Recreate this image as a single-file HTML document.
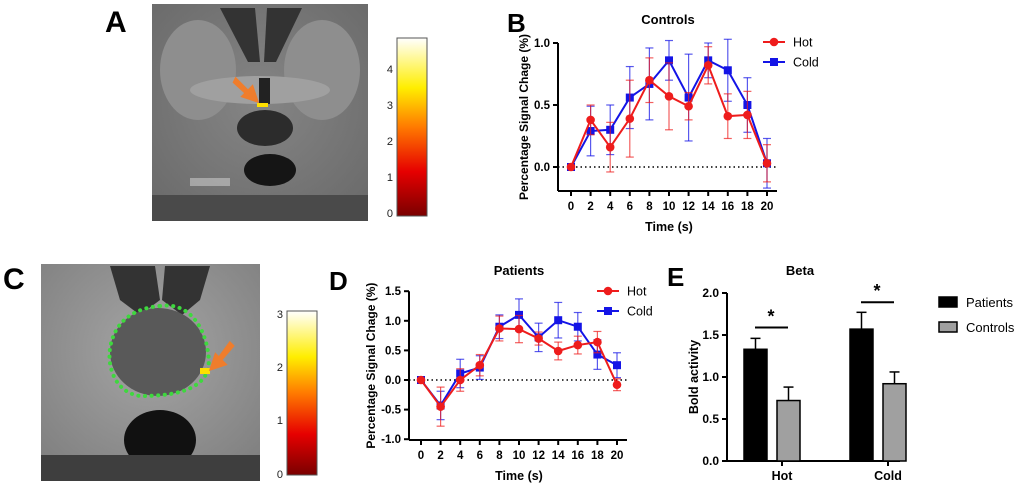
<!DOCTYPE html>
<html><head><meta charset="utf-8"><style>
body{margin:0;background:#fff;}
svg{display:block;font-family:"Liberation Sans",Arial,sans-serif;}
</style></head><body>
<svg id="fig" width="1020" height="487" viewBox="0 0 1020 487" xmlns="http://www.w3.org/2000/svg">
<defs>
<linearGradient id="cbar" x1="0" y1="1" x2="0" y2="0">
<stop offset="0" stop-color="#7a0000"/><stop offset="0.25" stop-color="#e60000"/><stop offset="0.5" stop-color="#ff7a00"/><stop offset="0.72" stop-color="#ffee00"/><stop offset="1" stop-color="#ffffff"/>
</linearGradient>
<radialGradient id="mriA" cx="0.5" cy="0.45" r="0.7"><stop offset="0" stop-color="#858585"/><stop offset="1" stop-color="#6a6a6a"/></radialGradient>
<radialGradient id="mriC" cx="0.5" cy="0.4" r="0.7"><stop offset="0" stop-color="#a5a5a5"/><stop offset="1" stop-color="#808080"/></radialGradient>
</defs>

<!-- Panel A -->
<text x="105" y="32" font-size="30" font-weight="bold">A</text>
<g>
<rect x="152" y="4" width="216" height="217" fill="url(#mriA)"/>
<ellipse cx="198" cy="70" rx="38" ry="50" fill="#8e8e8e"/>
<ellipse cx="322" cy="70" rx="38" ry="50" fill="#8e8e8e"/>
<ellipse cx="260" cy="90" rx="70" ry="14" fill="#a0a0a0"/>
<path d="M220,8 L255,8 L260,62 L248,62 Z" fill="#333"/>
<path d="M302,8 L267,8 L264,62 L276,62 Z" fill="#333"/>
<rect x="259" y="78" width="11" height="26" fill="#222"/>
<ellipse cx="265" cy="128" rx="28" ry="18" fill="#2c2c2c"/>
<ellipse cx="270" cy="170" rx="26" ry="16" fill="#151515"/>
<rect x="152" y="195" width="216" height="26" fill="#4a4a4a"/>
<rect x="190" y="178" width="40" height="8" fill="#c8c8c8" opacity="0.6"/>
<rect x="257" y="103" width="11" height="4" fill="#ffe000"/>
<path d="M236,80 L248,92 L252,88 L256,100 L244,96 L247,93 L235,82 Z" fill="#ef7d2c" stroke="#ef7d2c" stroke-width="4"/>
</g>
<g>
<rect x="397" y="38" width="30" height="178" fill="url(#cbar)" stroke="#555" stroke-width="1"/>
<g font-size="11" text-anchor="end" fill="#222">
<text x="393" y="217">0</text><text x="393" y="181">1</text><text x="393" y="145">2</text><text x="393" y="109">3</text><text x="393" y="73">4</text>
</g></g>

<!-- Panel C -->
<text x="3" y="289" font-size="30" font-weight="bold">C</text>
<g>
<rect x="41" y="264" width="219" height="217" fill="url(#mriC)"/>
<path d="M110,266 L155,266 L160,300 L140,315 L120,300 Z" fill="#333"/>
<path d="M210,266 L165,266 L162,300 L182,315 L200,300 Z" fill="#333"/>
<ellipse cx="158" cy="352" rx="48" ry="44" fill="#595959"/>
<ellipse cx="160" cy="440" rx="36" ry="30" fill="#111"/>
<rect x="41" y="455" width="219" height="26" fill="#3e3e3e"/>
<path d="M160,306 C200,300 212,350 208,370 C200,392 170,396 140,396 C112,392 105,360 112,340 C118,320 135,308 160,306 Z" fill="none" stroke="#3ed83e" stroke-width="4" stroke-dasharray="0.1 6.5" stroke-linecap="round"/>
<rect x="200" y="368" width="10" height="6" fill="#ffe000"/>
<path d="M232,346 L220,360 L224,364 L212,368 L216,356 L219,359 L230,344 Z" fill="#ef7d2c" stroke="#ef7d2c" stroke-width="4"/>
</g>
<g>
<rect x="287" y="311" width="30" height="164" fill="url(#cbar)" stroke="#555" stroke-width="1"/>
<g font-size="11" text-anchor="end" fill="#222">
<text x="283" y="478">0</text><text x="283" y="424">1</text><text x="283" y="371">2</text><text x="283" y="318">3</text>
</g></g>

<text x="507" y="32" font-size="26" font-weight="bold">B</text>
<text x="329" y="290" font-size="26" font-weight="bold">D</text>
<text x="667" y="286" font-size="26" font-weight="bold">E</text>

<g id="chartB"></g>
<g id="chartD"></g>
<g id="chartE"></g>
</svg>
<script>
const timeCats = [0,2,4,6,8,10,12,14,16,18,20];
const ctrlHot = [0,0.38,0.16,0.39,0.70,0.57,0.49,0.82,0.41,0.42,0.03];
const ctrlHotErr = [0,0.12,0.2,0.31,0.18,0.27,0.11,0.15,0.18,0.19,0.15];
const ctrlCold = [0,0.29,0.30,0.56,0.67,0.86,0.56,0.86,0.78,0.50,0.03];
const ctrlColdErr = [0,0.2,0.2,0.25,0.29,0.16,0.35,0.14,0.25,0.22,0.2];
const patHot = [0,-0.45,0,0.25,0.87,0.86,0.70,0.49,0.59,0.64,-0.08];
const patHotErr = [0,0.33,0.19,0.18,0.21,0.23,0.11,0.15,0.15,0.18,0.1];
const patCold = [0,-0.43,0.11,0.21,0.9,1.1,0.72,1.01,0.9,0.43,0.25];
const patColdErr = [0,0.24,0.24,0.2,0.2,0.27,0.24,0.3,0.24,0.25,0.21];
const ticksB = [0,0.5,1.0];
const ticksD = [-1.0,-0.5,0,0.5,1.0,1.5];
const betaCats = ["Hot","Cold"];
const betaPatients = [1.33,1.57];
const betaPatientsErr = [0.13,0.2];
const betaControls = [0.72,0.92];
const betaControlsErr = [0.16,0.14];
const betaSigY = [1.59,1.89];
const ticksE = [0,0.5,1.0,1.5,2.0];

const NS="http://www.w3.org/2000/svg";
function mk(parent,tag,attrs,text){const e=document.createElementNS(NS,tag);for(const k in attrs)e.setAttribute(k,attrs[k]);if(text!==undefined)e.textContent=text;parent.appendChild(e);return e;}

function lineChart(g,o){
  const xs=t=>o.x0+(t-timeCats[0])/(timeCats[timeCats.length-1]-timeCats[0])*(o.x1-o.x0);
  const ys=v=>o.yZero-(v)*o.pxPerUnit;
  mk(g,'text',{x:o.titleX,y:o.titleY,'font-size':13,'font-weight':'bold','text-anchor':'middle'},o.title);
  const ax=mk(g,'g',{});
  
  
  mk(ax,'line',{x1:o.ax,y1:ys(o.ymax),x2:o.ax,y2:o.axBottom,stroke:'#000','stroke-width':2});
  o.ticks.forEach(t=>{
    mk(ax,'line',{x1:o.ax-5,y1:ys(t),x2:o.ax,y2:ys(t),stroke:'#000','stroke-width':2});
    mk(ax,'text',{x:o.ax-8,y:ys(t)+4,'font-size':11.5,'font-weight':'bold','text-anchor':'end'},t.toFixed(1));
  });
  const xa=mk(g,'g',{});
  
  
  mk(xa,'line',{x1:o.ax,y1:o.axBottom,x2:o.axRight,y2:o.axBottom,stroke:'#000','stroke-width':2});
  timeCats.forEach(t=>{
    mk(xa,'line',{x1:xs(t),y1:o.axBottom,x2:xs(t),y2:o.axBottom+5,stroke:'#000','stroke-width':2});
    mk(xa,'text',{x:xs(t),y:o.axBottom+19,'font-size':11.5,'font-weight':'bold','text-anchor':'middle'},t);
  });
  mk(g,'text',{x:(o.x0+o.x1)/2,y:o.axBottom+40,'font-size':12.5,'font-weight':'bold','text-anchor':'middle'},'Time (s)');
  const yt=mk(g,'text',{x:0,y:0,'font-size':12,'font-weight':'bold','text-anchor':'middle',transform:`translate(${o.ytX},${(ys(o.ymax)+o.axBottom)/2}) rotate(-90)`},'Percentage Signal Chage (%)');
  
  
  mk(g,'line',{x1:o.ax,y1:ys(0),x2:o.axRight,y2:ys(0),stroke:'#000','stroke-width':1.5,'stroke-dasharray':'1.5 3'});
  const series=[[o.cold,o.coldErr,'#1414e6','sq','Cold'],[o.hot,o.hotErr,'#ee1c1c','ci','Hot']];
  series.forEach(([vals,errs,col,shape,name])=>{
    const sg=mk(g,'g',{});
    
    
    vals.forEach((v,i)=>{ if(errs[i]>0){const x=xs(timeCats[i]);
      mk(sg,'line',{x1:x,y1:ys(v-errs[i]),x2:x,y2:ys(v+errs[i]),stroke:col,'stroke-width':1.2,opacity:0.7});
      mk(sg,'line',{x1:x-4,y1:ys(v-errs[i]),x2:x+4,y2:ys(v-errs[i]),stroke:col,'stroke-width':1.2,opacity:0.7});
      mk(sg,'line',{x1:x-4,y1:ys(v+errs[i]),x2:x+4,y2:ys(v+errs[i]),stroke:col,'stroke-width':1.2,opacity:0.7});}});
    mk(sg,'polyline',{points:vals.map((v,i)=>xs(timeCats[i])+','+ys(v)).join(' '),fill:'none',stroke:col,'stroke-width':2});
    vals.forEach((v,i)=>{const x=xs(timeCats[i]),y=ys(v);
      if(shape==='sq')mk(sg,'rect',{x:x-4,y:y-4,width:8,height:8,fill:col});
      else mk(sg,'circle',{cx:x,cy:y,r:4.3,fill:col});});
  });
  [['Hot','#ee1c1c','ci',o.legY],['Cold','#1414e6','sq',o.legY+20]].forEach(([n,c,s,y])=>{
    const lg=mk(g,'g',{});
    
    
    mk(lg,'line',{x1:o.legX,y1:y,x2:o.legX+22,y2:y,stroke:c,'stroke-width':2});
    if(s==='sq')mk(lg,'rect',{x:o.legX+7,y:y-4,width:8,height:8,fill:c});else mk(lg,'circle',{cx:o.legX+11,cy:y,r:4.3,fill:c});
    mk(lg,'text',{x:o.legX+30,y:y+4.5,'font-size':12.5},n);
  });
}
lineChart(document.getElementById('chartB'),{x0:571,x1:767,ax:558,axRight:777,axBottom:191,yZero:167,pxPerUnit:124,ymax:1.0,ticks:ticksB,
  title:'Controls',titleX:668,titleY:24,ytX:528,legX:763,legY:42,hot:ctrlHot,hotErr:ctrlHotErr,cold:ctrlCold,coldErr:ctrlColdErr});
lineChart(document.getElementById('chartD'),{x0:421,x1:617,ax:409,axRight:627,axBottom:440,yZero:380,pxPerUnit:59.2,ymax:1.5,ticks:ticksD,
  title:'Patients',titleX:519,titleY:275,ytX:375,legX:597,legY:291,hot:patHot,hotErr:patHotErr,cold:patCold,coldErr:patColdErr});

(function(){
  const g=document.getElementById('chartE');
  const ax=727,base=461,top=293,ymax=2.0;
  const ys=v=>base-v/ymax*(base-top);
  const groupX=[754,860]; const bw=23;
  mk(g,'text',{x:800,y:275,'font-size':13,'font-weight':'bold','text-anchor':'middle'},'Beta');
  const ya=mk(g,'g',{});
  
  
  mk(ya,'line',{x1:ax,y1:top,x2:ax,y2:base,stroke:'#000','stroke-width':2});
  ticksE.forEach(t=>{mk(ya,'line',{x1:ax-5,y1:ys(t),x2:ax,y2:ys(t),stroke:'#000','stroke-width':2});
    mk(ya,'text',{x:ax-8,y:ys(t)+4,'font-size':12,'font-weight':'bold','text-anchor':'end'},t.toFixed(1));});
  mk(g,'text',{x:0,y:0,'font-size':12.5,'font-weight':'bold','text-anchor':'middle',transform:`translate(698,${(top+base)/2}) rotate(-90)`},'Bold activity');
  mk(g,'line',{x1:ax,y1:base,x2:900,y2:base,stroke:'#000','stroke-width':2});
  betaCats.forEach((c,i)=>{
    const cx=groupX[i]+bw+5;
    mk(g,'line',{x1:cx,y1:base,x2:cx,y2:base+5,stroke:'#000','stroke-width':2});
    mk(g,'text',{x:cx,y:base+19,'font-size':12.5,'font-weight':'bold','text-anchor':'middle'},c);
    [[betaPatients[i],betaPatientsErr[i],groupX[i]-10,'#000','patients'],[betaControls[i],betaControlsErr[i],groupX[i]+23,'#a0a0a0','controls']].forEach(([v,e,x,f,n])=>{
      const b=mk(g,'rect',{x:x,y:ys(v),width:bw,height:base-ys(v),fill:f,stroke:'#000','stroke-width':1.5});
      
      
      mk(g,'line',{x1:x+bw/2,y1:ys(v),x2:x+bw/2,y2:ys(v+e),stroke:'#000','stroke-width':1.5});
      mk(g,'line',{x1:x+bw/2-5,y1:ys(v+e),x2:x+bw/2+5,y2:ys(v+e),stroke:'#000','stroke-width':1.5});
    });
    mk(g,'line',{x1:groupX[i]+1,y1:ys(betaSigY[i]),x2:groupX[i]+34,y2:ys(betaSigY[i]),stroke:'#000','stroke-width':2});
    mk(g,'text',{x:groupX[i]+17,y:ys(betaSigY[i])-5,'font-size':18,'font-weight':'bold','text-anchor':'middle'},'*');
  });
  [['Patients','#000',302],['Controls','#a0a0a0',327]].forEach(([n,f,y])=>{
    const lg=mk(g,'g',{});
    
    
    mk(lg,'rect',{x:939,y:y-5,width:18,height:10,fill:f,stroke:'#000','stroke-width':1.5});
    mk(lg,'text',{x:966,y:y+5,'font-size':13},n);
  });
})();
</script>
</body></html>
